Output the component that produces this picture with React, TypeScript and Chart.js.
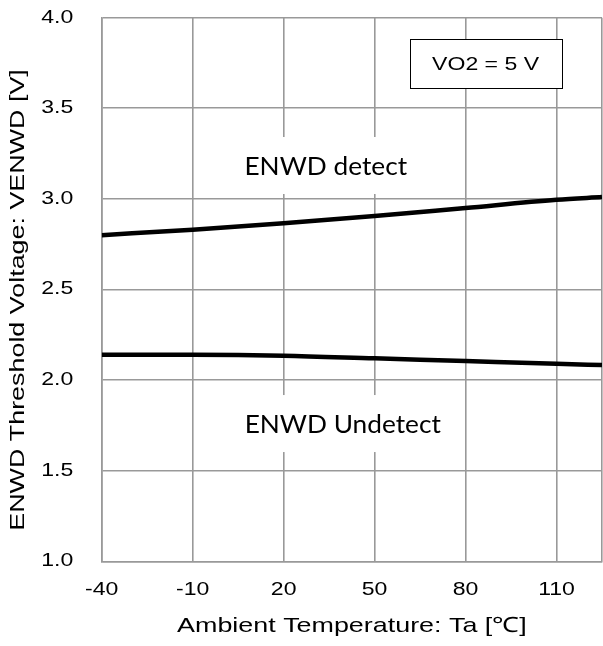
import React, { useEffect, useRef } from "react";
import { Chart, registerables } from "chart.js";

Chart.register(...registerables);

const temps = [-40, -10, 20, 50, 80, 110, 125];
const detectV = [2.8, 2.83, 2.865, 2.905, 2.95, 2.995, 3.01];
const undetectV = [2.14, 2.14, 2.135, 2.12, 2.105, 2.09, 2.083];
const xTicks = [-40, -10, 20, 50, 80, 110, 125];
const xTickLabels = ["-40", "-10", "20", "50", "80", "110", ""];
const yTicks = [1.0, 1.5, 2.0, 2.5, 3.0, 3.5, 4.0];
const yTickLabels = ["1.0", "1.5", "2.0", "2.5", "3.0", "3.5", "4.0"];
const xTitle = "Ambient Temperature: Ta [℃]";
const yTitle = "ENWD Threshold Voltage: VENWD [V]";

const SANS = "'Liberation Sans', Arial, sans-serif";
const annoFont = "25px Lato, 'Open Sans', sans-serif";
const SX = 1.28;

const notes = [
  { text: "ENWD detect", x: 33.9, y: 3.176 },
  { text: "ENWD Undetect", x: 39.5, y: 1.752 },
];

function stretchText(ctx: any, text: string, x: number, y: number, sx: number, align: string, rot = 0) {
  ctx.save();
  ctx.translate(x, y);
  if (rot) ctx.rotate(rot);
  ctx.scale(sx, 1);
  ctx.textAlign = align;
  ctx.textBaseline = "middle";
  ctx.fillText(text, 0, 0);
  ctx.restore();
}

const annoPlugin = {
  id: "anno",
  afterDraw(chart: any) {
    const { ctx, scales, chartArea } = chart;
    const xs = scales.x;
    const ys = scales.y;
    ctx.save();
    ctx.fillStyle = "#000";
    // tick labels
    ctx.font = `18px ${SANS}`;
    xTicks.forEach((v, i) => {
      if (!xTickLabels[i]) return;
      stretchText(ctx, xTickLabels[i], xs.getPixelForValue(v), 590.5, SX, "center");
    });
    yTicks.forEach((v, i) => {
      stretchText(ctx, yTickLabels[i], chartArea.left - 28.5, ys.getPixelForValue(v), SX, "right");
    });
    // axis titles
    ctx.font = `21px ${SANS}`;
    stretchText(ctx, xTitle, (chartArea.left + chartArea.right) / 2, 626, SX, "center");
    stretchText(ctx, yTitle, 18, 300, SX, "center", -Math.PI / 2);

    // annotations
    ctx.font = annoFont;
    for (const n of notes) {
      const px = xs.getPixelForValue(n.x);
      const py = ys.getPixelForValue(n.y);
      const w = ctx.measureText(n.text).width * 1.05;
      ctx.fillStyle = "#fff";
      ctx.fillRect(px - w / 2 - 14, py - 30, w + 28, 57);
      ctx.fillStyle = "#000";
      stretchText(ctx, n.text, px, py, 1.05, "center");
    }
    // VO2 box
    const bx = xs.getPixelForValue(86.6);
    const by = ys.getPixelForValue(3.747);
    const bw = 152;
    const bh = 49;
    ctx.fillStyle = "#fff";
    ctx.fillRect(bx - bw / 2, by - bh / 2, bw, bh);
    ctx.strokeStyle = "#000";
    ctx.lineWidth = 1;
    ctx.strokeRect(Math.round(bx - bw / 2) + 0.5, Math.round(by - bh / 2) + 0.5, bw, bh);
    ctx.font = `18px ${SANS}`;
    ctx.fillStyle = "#000";
    stretchText(ctx, "VO2 = 5 V", bx, by + 1, SX, "center");
    ctx.restore();
  },
};

export default function App() {
  const ref = useRef<HTMLCanvasElement>(null);
  useEffect(() => {
    if (!ref.current) return;
    const chart = new Chart(ref.current, {
      type: "line",
      data: {
        datasets: [
          {
            label: "detect",
            data: temps.map((t, i) => ({ x: t, y: detectV[i] })),
            borderColor: "#000",
            borderWidth: 4.5,
            pointRadius: 0,
            cubicInterpolationMode: "monotone",
          },
          {
            label: "undetect",
            data: temps.map((t, i) => ({ x: t, y: undetectV[i] })),
            borderColor: "#000",
            borderWidth: 4.5,
            pointRadius: 0,
            cubicInterpolationMode: "monotone",
          },
        ],
      },
      options: {
        animation: false,
        responsive: false,
        maintainAspectRatio: false,
        layout: { padding: { top: 17.7, right: 1, left: 0, bottom: 0 } },
        plugins: { legend: { display: false }, tooltip: { enabled: false } },
        scales: {
          x: {
            type: "linear",
            min: -40,
            max: 125,
            afterBuildTicks: (s: any) => {
              s.ticks = xTicks.map((v) => ({ value: v }));
            },
            afterFit: (s: any) => {
              s.height = 84.7;
            },
            grid: { color: "#999", lineWidth: 1.6, drawTicks: false },
            border: { color: "#999", width: 1.6 },
            ticks: { display: false },
          },
          y: {
            type: "linear",
            min: 1,
            max: 4,
            afterBuildTicks: (s: any) => {
              s.ticks = yTicks.map((v) => ({ value: v }));
            },
            afterFit: (s: any) => {
              s.width = 101.7;
            },
            grid: { color: "#999", lineWidth: 1.6, drawTicks: false },
            border: { color: "#999", width: 1.6 },
            ticks: { display: false },
          },
        },
      },
      plugins: [annoPlugin],
    } as any);
    return () => chart.destroy();
  }, []);
  return (
    <div style={{ position: "absolute", left: 0, top: 0, width: 603, height: 646, background: "#fff" }}>
      <canvas ref={ref} width={603} height={646} style={{ display: "block", width: 603, height: 646 }} />
    </div>
  );
}
